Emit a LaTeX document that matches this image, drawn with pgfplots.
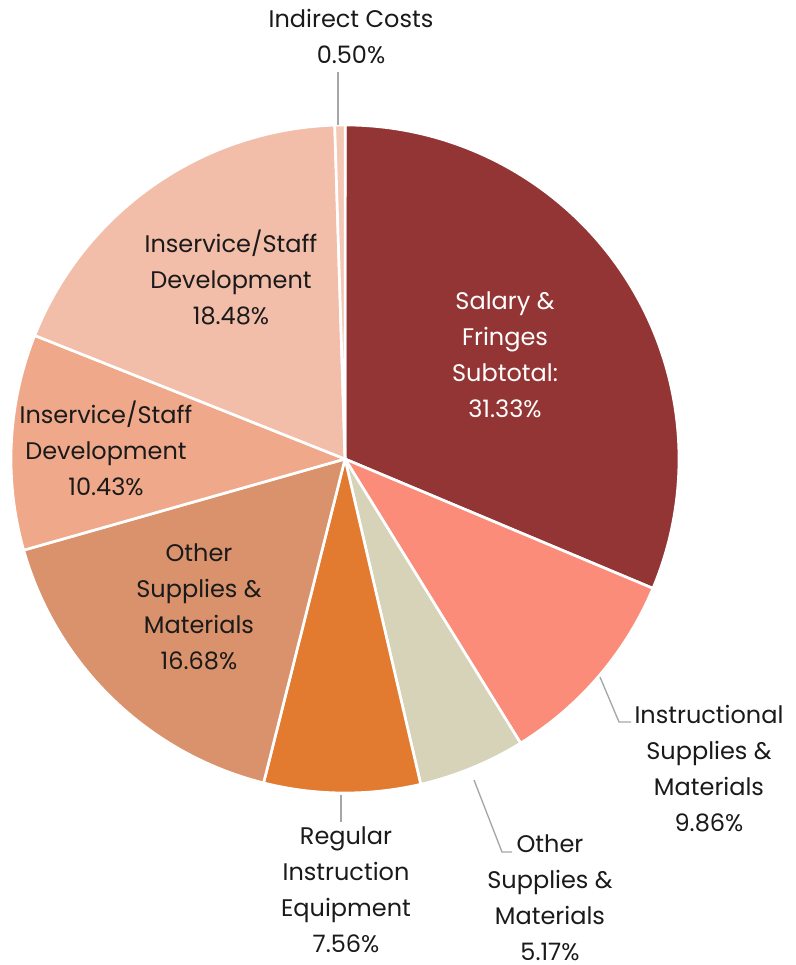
\documentclass[border=0pt]{standalone}
\usepackage{pgfplots}
\pgfplotsset{compat=1.18}
\usepackage{pgfplotstable}
\usepackage{fontspec}
\setmainfont{Poppins}
\definecolor{cA}{HTML}{943535}
\definecolor{cB}{HTML}{FC8C7A}
\definecolor{cC}{HTML}{D6D3B9}
\definecolor{cD}{HTML}{E27A30}
\definecolor{cE}{HTML}{D9926C}
\definecolor{cF}{HTML}{EFA88A}
\definecolor{cG}{HTML}{F2BDA9}
\definecolor{cH}{HTML}{F5C8B5}
\definecolor{txt}{HTML}{1A1A1A}
\definecolor{lead}{HTML}{A6A6A6}
\pgfplotstableread{
pct col
31.33 cA
9.86 cB
5.17 cC
7.56 cD
16.68 cE
10.43 cF
18.48 cG
0.50 cH
}\piedata
\begin{document}
\begin{tikzpicture}
\begin{axis}[x=0.75pt, y=0.75pt, xmin=0, xmax=796, ymin=0, ymax=965,
  hide axis, clip=false, scale only axis]
\addplot[draw=none] coordinates {(0,0) (796,965)};
\gdef\a{90}
\pgfplotsforeachungrouped \i in {0,...,7}{%
  \pgfplotstablegetelem{\i}{pct}\of\piedata \let\p\pgfplotsretval
  \pgfplotstablegetelem{\i}{col}\of\piedata \let\c\pgfplotsretval
  \pgfmathsetmacro\e{\a-3.6*\p}%
  \edef\temp{\noexpand\fill[fill=\c, draw=white, line width=2pt, line join=round] (axis cs:345,506) -- ++(\a:250.5pt) arc[start angle=\a, end angle=\e, radius=250.5pt] -- cycle;}%
  \temp
  \global\let\a\e
}
\draw[lead, line width=1pt] (axis cs:338,893) -- (axis cs:338,840);
\draw[lead, line width=1pt] (axis cs:600,288) -- (axis cs:619,243) -- (axis cs:631,243);
\draw[lead, line width=1pt] (axis cs:474,185) -- (axis cs:502,113) -- (axis cs:512,113);
\draw[lead, line width=1pt] (axis cs:341,170) -- (axis cs:341,143);
\tikzset{lab/.style={align=center, inner sep=0pt, text=txt, font=\fontsize{18}{27}\selectfont}}
\node[lab] at (axis cs:351,928.5) {Indirect Costs\\0.50\%};
\node[lab, text=white] at (axis cs:505,610) {Salary \&\\Fringes\\Subtotal:\\31.33\%};
\node[lab] at (axis cs:709,196) {Instructional\\Supplies \&\\Materials\\9.86\%};
\node[lab] at (axis cs:550,67.5) {Other\\Supplies \&\\Materials\\5.17\%};
\node[lab] at (axis cs:346,75.5) {Regular\\Instruction\\Equipment\\7.56\%};
\node[lab] at (axis cs:199,358) {Other\\Supplies \&\\Materials\\16.68\%};
\node[lab] at (axis cs:106,516.5) {Inservice/Staff\\Development\\10.43\%};
\node[lab] at (axis cs:231,688) {Inservice/Staff\\Development\\18.48\%};
\end{axis}
\end{tikzpicture}
\end{document}
